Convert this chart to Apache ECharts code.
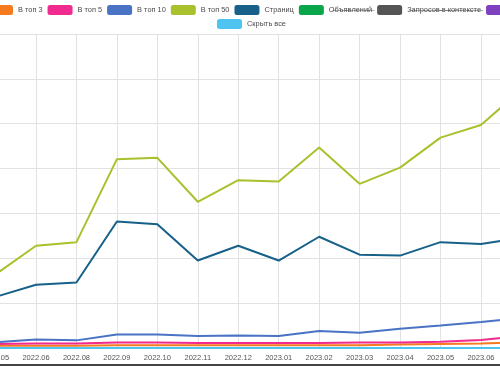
<!DOCTYPE html>
<html>
<head>
<meta charset="utf-8">
<script src="https://cdn.jsdelivr.net/npm/echarts@6/dist/echarts.min.js"></script>
<style>
html,body{margin:0;padding:0;width:500px;height:366px;overflow:hidden;background:#fff;}
#c{position:absolute;left:-60px;top:0;width:700px;height:366px;}
#bar{position:absolute;left:0;bottom:0;width:500px;height:2px;background:#444;}
</style>
</head>
<body>
<div id="c"></div>
<div id="bar"></div>
<script>
const categories = ['2022.05','2022.06','2022.08','2022.09','2022.10','2022.11','2022.12','2023.01','2023.02','2023.03','2023.04','2023.05','2023.06','2023.07'];
const top3  = [5, 5, 5, 6, 6, 6, 6, 6, 6, 6, 8, 9, 10, 13];
const top5  = [9, 10, 10, 12, 12, 11, 11, 11, 11, 12, 12, 14, 18, 27];
const top10 = [13, 19, 17, 30, 30, 27, 28, 27, 38, 34, 43, 50, 58, 67];
const top50 = [164, 228, 236, 421, 424, 326, 374, 371, 447, 366, 402, 469, 497, 576];
const pages = [114, 141, 146, 282, 276, 195, 228, 195, 248, 208, 206, 236, 232, 246];
const ads = [];
const contextQueries = [];
const clicks = [];
const hideAll = [0, 0, 0, 0, 0, 0, 0, 0, 0, 0, 0, 0, 0, 0];

const names = ['В топ 3','В топ 5','В топ 10','В топ 50','Страниц','Объявлений','Запросов в контексте','Кликов','Скрыть все'];
const colors = ['#f57a20','#f02a8e','#4a72c5','#a8c12c','#17608a','#0aa64b','#555555','#7f40c0','#4ec5f1'];
const datas = [top3, top5, top10, top50, pages, ads, contextQueries, clicks, hideAll];
const struck = ['Объявлений','Запросов в контексте'];

const chart = echarts.init(document.getElementById('c'), null, {renderer:'canvas'});
const legendCommon = {
  orient: 'horizontal', itemWidth: 25, itemHeight: 10, itemGap: 5, padding: 0,
  icon: 'roundRect',
  textStyle: {fontSize: 7.4, color: '#4a4a4a', fontFamily: 'Liberation Sans, Arial, sans-serif'},
  formatter: function(n){ return struck.indexOf(n) >= 0 ? n.split('').map(c => c + '\u0336').join('') : n; }
};
chart.setOption({
  animation: false,
  color: colors,
  legend: [
    Object.assign({}, legendCommon, {data: names.slice(0, 8), left: 48, top: 5, width: 650}),
    Object.assign({}, legendCommon, {data: names.slice(8), left: 277, top: 19})
  ],
  grid: {left: 55.55, right: 118.6, top: 34, bottom: 18, containLabel: false},
  xAxis: {
    type: 'category', data: categories, boundaryGap: false,
    axisLine: {show: true, lineStyle: {color: '#ccc'}},
    axisTick: {show: false},
    axisLabel: {fontSize: 7.5, color: '#555', margin: 6, fontFamily: 'Liberation Sans, Arial, sans-serif', interval: 0},
    splitLine: {show: true, lineStyle: {color: '#e2e2e2', width: 1}}
  },
  yAxis: {
    type: 'value', min: 0, max: 700, interval: 100,
    axisLabel: {show: false}, axisLine: {show: false}, axisTick: {show: false},
    splitLine: {show: true, lineStyle: {color: '#e2e2e2', width: 1}}
  },
  series: names.map((n, i) => ({
    name: n, type: 'line', data: datas[i], showSymbol: false, symbol: 'none',
    lineStyle: {width: 2, color: colors[i]},
    itemStyle: {color: colors[i]},
    z: i === 8 ? 1 : 2 + i
  }))
});
</script>
</body>
</html>
